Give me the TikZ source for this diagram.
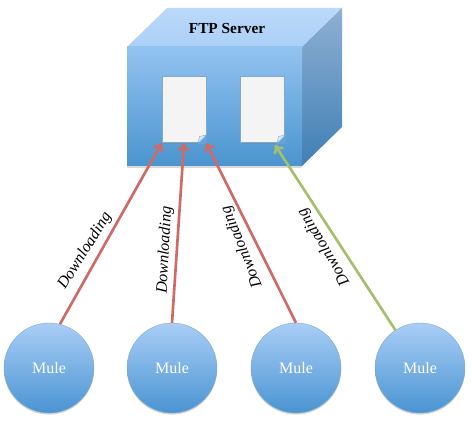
\documentclass[tikz,border=0pt]{standalone}
\usepackage{fontspec}
\setmainfont{Liberation Serif}
\usepackage{tikz}
\usetikzlibrary{shadows,arrows.meta}

\definecolor{mulelight}{HTML}{A9CEF6}
\definecolor{muledark}{HTML}{4A94D2}
\definecolor{filegray}{HTML}{F4F4F4}
\definecolor{fileedge}{HTML}{7FA9CF}
\definecolor{foldblue}{HTML}{DCE8F2}
\definecolor{redline}{HTML}{CF6A66}
\definecolor{greenline}{HTML}{A5BF6B}
\definecolor{topback}{HTML}{BBD9FA}
\definecolor{topfront}{HTML}{ABD0F6}
\definecolor{sidetop}{HTML}{8FB0D3}
\definecolor{sidebottom}{HTML}{3F7FB5}
\definecolor{frontlight}{HTML}{93C3F0}
\definecolor{frontdark}{HTML}{4A94CF}

\begin{document}
\begin{tikzpicture}[
    x=0.75pt, y=-0.75pt,
    mule/.style={circle, minimum size=67.5pt, inner sep=0pt, draw=fileedge, line width=0.3pt,
      top color=mulelight, bottom color=muledark, text=white, font=\fontsize{12}{14}\selectfont,
      drop shadow={shadow xshift=0pt, shadow yshift=-1.2pt, opacity=0.35}},
    file/.style={rectangle, minimum width=33pt, minimum height=50pt, inner sep=0pt, fill=filegray,
      draw=fileedge, line width=0.5pt,
      drop shadow={shadow xshift=0pt, shadow yshift=-0.8pt, opacity=0.3}},
    fold/.style={fill=foldblue, draw=fileedge, line width=0.3pt},
    fetch/.style={-{To[length=6pt,width=9pt]}, line width=2pt},
    tag/.style={font=\fontsize{12}{14}\selectfont\itshape, inner sep=0pt},
  ]
  \useasboundingbox (0,0) rectangle (472,431);

  % le serveur
  \fill[black, opacity=0.15] (127,166) -- (302,166) -- (302,168) -- (127,168) -- cycle;
  \shade[top color=topback, bottom color=topfront] (127,47) -- (167,8) -- (342,8) -- (302,47) -- cycle;
  \shade[top color=sidetop, bottom color=sidebottom] (302,47) -- (342,8) -- (342,127) -- (302,166) -- cycle;
  \shade[top color=frontlight, bottom color=frontdark] (127,47) rectangle (302,166);
  \node[font=\fontsize{11.5}{14}\selectfont\bfseries] (server) at (227,29) {FTP Server};

  % les fichiers
  \node[file] (doc1) at (184,109.5) {};
  \node[file] (doc2) at (262.5,109.5) {};
  \fill[frontlight!35!frontdark] (198,144) -- (206.8,135) -- (206.8,144) -- cycle;
  \fill[frontlight!35!frontdark] (277,144) -- (285.8,135) -- (285.8,144) -- cycle;
  \draw[fold] (198,143.5) -- (199.5,136.5) -- (206.5,135) -- cycle;
  \draw[fold] (277,143.5) -- (278.5,136.5) -- (285.5,135) -- cycle;
  \coordinate (tip4) at (275,145);

  % les clients
  \node[mule] (mule1) at (49,368) {Mule};
  \node[mule] (mule2) at (172,368) {Mule};
  \node[mule] (mule3) at (296,368) {Mule};
  \node[mule] (mule4) at (420,368) {Mule};

  \draw[fetch, redline] (mule1.76) -- (doc1.south west);
  \draw[fetch, redline] (mule2.north) -- (doc1.south);
  \draw[fetch, redline] (mule3.north) -- (doc1.south east);
  \draw[fetch, greenline] (mule4.123) -- (tip4);

  \node[tag, rotate=58] (label1) at (85,251) {Downloading};
  \node[tag, rotate=87] (label2) at (165,250) {Downloading};
  \node[tag, rotate=112] (label3) at (242,247) {Downloading};
  \node[tag, rotate=121] (label4) at (324,247) {Downloading};
\end{tikzpicture}
\end{document}
